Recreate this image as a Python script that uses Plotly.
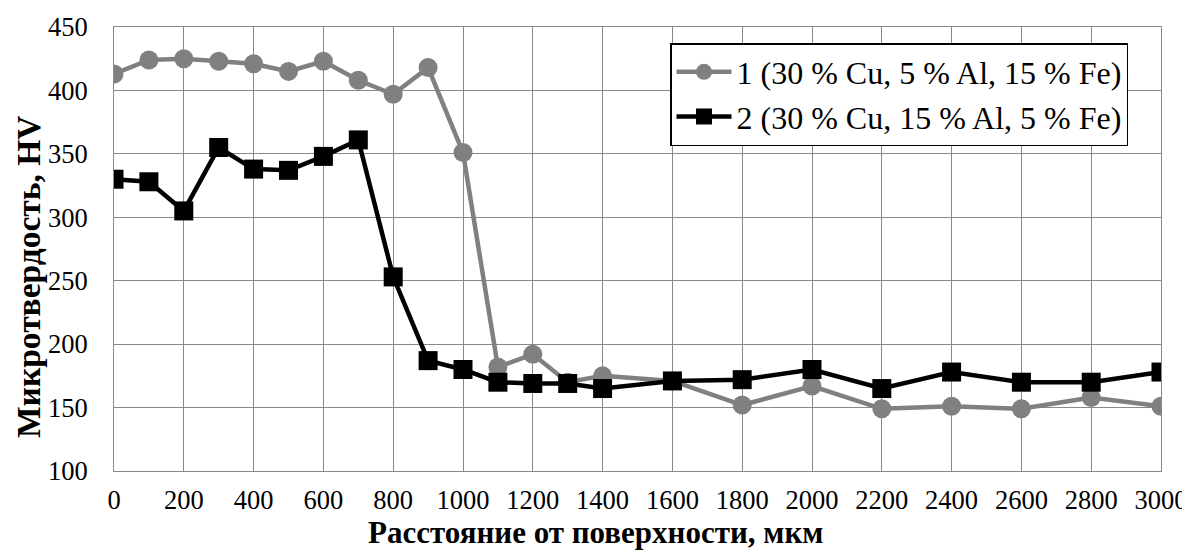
import plotly.graph_objects as go

x_vals = [0, 100, 200, 300, 400, 500, 600, 700, 800, 900, 1000, 1100, 1200, 1300, 1400,
          1600, 1800, 2000, 2200, 2400, 2600, 2800, 3000]
series1 = [413, 424, 425, 423, 421, 415, 423, 408, 397, 418, 351, 182, 192, 170, 175,
           171, 152, 167, 149, 151, 149, 158, 151]
series2 = [330, 328, 305, 355, 338, 337, 348, 361, 253, 187, 180, 170, 169, 169, 165,
           171, 172, 180, 165, 178, 170, 170, 178]
name1 = "1 (30 % Cu, 5 % Al, 15 % Fe)"
name2 = "2 (30 % Cu, 15 % Al, 5 % Fe)"
x_ticks = list(range(0, 3001, 200))
y_ticks = list(range(100, 451, 50))
x_title = "Расстояние от поверхности, мкм"
y_title = "Микротвердость, HV"

font_family = "Liberation Serif, Times New Roman, serif"
grid_color = "#898989"

# page body has an 8px margin, so the figure is sized to fit the 1190x559 window
fig = go.Figure()
fig.add_trace(go.Scatter(
    x=x_vals, y=series1, name=name1, mode="lines+markers",
    line=dict(color="#808080", width=4.5),
    marker=dict(symbol="circle", size=19, color="#808080"),
))
fig.add_trace(go.Scatter(
    x=x_vals, y=series2, name=name2, mode="lines+markers",
    line=dict(color="#000000", width=4.5),
    marker=dict(symbol="square", size=19, color="#000000"),
))

# plot area in page pixels: x 114..1161, y 27..471
PL, PR, PT, PB = 114, 1161, 27, 471

fig.update_layout(
    width=1182, height=551,
    margin=dict(l=PL - 8, r=29, t=PT - 8, b=88),
    paper_bgcolor="white", plot_bgcolor="white",
    font=dict(family=font_family, size=26.5, color="black"),
    showlegend=True,
    legend=dict(
        x=(1128 - PL) / (PR - PL), xanchor="right",
        y=1 - (43 - PT) / (PB - PT), yanchor="top",
        bgcolor="white", bordercolor="black", borderwidth=1.5,
        font=dict(family=font_family, size=32, color="black"),
        itemwidth=55, tracegroupgap=4,
    ),
    xaxis=dict(
        range=[0, 3000], tickmode="array", tickvals=x_ticks,
        ticktext=[str(v) for v in x_ticks],
        showgrid=True, gridcolor=grid_color, gridwidth=1,
        showline=True, linecolor=grid_color, linewidth=1, mirror=True,
        zeroline=False, ticks="", ticklabelstandoff=5,
        tickfont=dict(size=26.5),
        automargin=False,
    ),
    yaxis=dict(
        range=[100, 450], tickmode="array", tickvals=y_ticks,
        ticktext=[str(v) for v in y_ticks],
        showgrid=True, gridcolor=grid_color, gridwidth=1,
        showline=True, linecolor=grid_color, linewidth=1, mirror=True,
        zeroline=False, ticks="", ticklabelstandoff=20,
        tickfont=dict(size=26.5),
        automargin=False,
    ),
    annotations=[
        dict(text="<b>" + x_title + "</b>", xref="paper", yref="paper",
             x=(595 - PL) / (PR - PL), y=(PB - 532) / (PB - PT),
             xanchor="center", yanchor="middle", showarrow=False,
             font=dict(size=31, family=font_family, color="black")),
        dict(text="<b>" + y_title + "</b>", xref="paper", yref="paper",
             x=(28 - PL) / (PR - PL), y=(PB - 277) / (PB - PT),
             xanchor="center", yanchor="middle", showarrow=False, textangle=-90,
             font=dict(size=33.5, family=font_family, color="black")),
    ],
)

fig.write_html("out.html")
